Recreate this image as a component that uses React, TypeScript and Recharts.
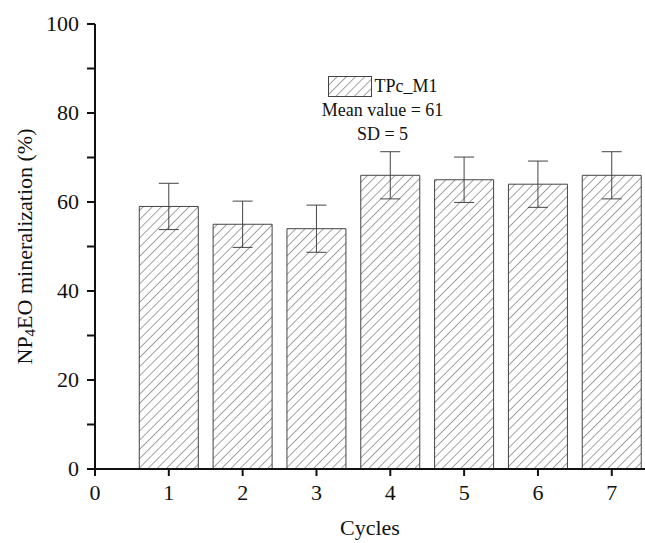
import React from 'react';
import { BarChart, Bar, XAxis, YAxis, ErrorBar, Label } from 'recharts';

// values
const cycles = [1, 2, 3, 4, 5, 6, 7];
const mineralization = [59, 55, 54, 66, 65, 64, 66];
const sdErrors = [5.2, 5.2, 5.3, 5.3, 5.1, 5.2, 5.3];
const xTicks = [0, 1, 2, 3, 4, 5, 6, 7];
const yTicks = [0, 10, 20, 30, 40, 50, 60, 70, 80, 90, 100];

const data = cycles.map((c, i) => ({ cycle: c, value: mineralization[i], err: sdErrors[i] }));

const FONT = '"Liberation Serif", "Times New Roman", serif';

const YTick = (props: any) => {
  const { x, y, payload } = props;
  if (payload.value % 20 !== 0) return null;
  return (
    <text x={x - 6} y={y} dy={7} textAnchor="end" fontSize={22} fontFamily={FONT} fill="#111">
      {payload.value}
    </text>
  );
};

const XTick = (props: any) => {
  const { x, y, payload } = props;
  return (
    <text x={x} y={y} dy={22} textAnchor="middle" fontSize={22} fontFamily={FONT} fill="#111">
      {payload.value}
    </text>
  );
};

const YLabel = (props: any) => {
  const { viewBox } = props;
  const cx = 24;
  const cy = viewBox.y + viewBox.height / 2;
  return (
    <text
      x={cx}
      y={cy}
      transform={`rotate(-90, ${cx}, ${cy})`}
      textAnchor="middle"
      dominantBaseline="central"
      fontSize={22}
      fontFamily={FONT}
      fill="#111"
    >
      NP<tspan fontSize={15} dy={6}>4</tspan>
      <tspan dy={-6}>EO mineralization (%)</tspan>
    </text>
  );
};

const App: React.FC = () => {
  return (
    <div style={{ position: 'absolute', left: 0, top: 0, width: 645, height: 543, background: '#fff' }}>
      <BarChart
        width={645}
        height={543}
        data={data}
        margin={{ top: 24, right: 0, bottom: 0, left: 0 }}
        barCategoryGap="10%"
      >
        <defs>
          <pattern id="hatch" patternUnits="userSpaceOnUse" width={6.5} height={6.5} patternTransform="rotate(45)">
            <rect width={6.5} height={6.5} fill="#fff" />
            <line x1={0} y1={0} x2={0} y2={6.5} stroke="#666" strokeWidth={1.2} />
          </pattern>
        </defs>
        <XAxis
          dataKey="cycle"
          type="number"
          domain={[0, 7.45]}
          ticks={xTicks}
          allowDataOverflow
          height={74}
          tick={<XTick />}
          tickSize={7}
          axisLine={{ stroke: '#111', strokeWidth: 2 }}
          tickLine={{ stroke: '#111', strokeWidth: 2 }}
        >
          <Label value="Cycles" position="insideBottom" offset={8} fontSize={22} fontFamily={FONT} fill="#111" />
        </XAxis>
        <YAxis
          type="number"
          domain={[0, 100]}
          ticks={yTicks}
          width={95}
          tick={<YTick />}
          tickSize={8}
          axisLine={{ stroke: '#111', strokeWidth: 2 }}
          tickLine={{ stroke: '#111', strokeWidth: 2 }}
          label={<YLabel />}
        />
        <Bar dataKey="value" fill="url(#hatch)" stroke="#444" strokeWidth={1} isAnimationActive={false}>
          <ErrorBar dataKey="err" width={10} stroke="#444" strokeWidth={1} />
        </Bar>
      </BarChart>
      <div
        style={{
          position: 'absolute',
          left: 300,
          top: 74,
          width: 165,
          fontFamily: FONT,
          fontSize: 18,
          color: '#111',
          textAlign: 'center',
          lineHeight: '24px',
        }}
      >
        <div style={{ display: 'flex', alignItems: 'center', justifyContent: 'center' }}>
          <svg width={44} height={21} style={{ marginRight: 3 }}>
            <rect x={0.5} y={0.5} width={43} height={20} fill="url(#hatch)" stroke="#444" />
          </svg>
          <span>TPc_M1</span>
        </div>
        <div>Mean value = 61</div>
        <div>SD = 5</div>
      </div>
    </div>
  );
};

export default App;
